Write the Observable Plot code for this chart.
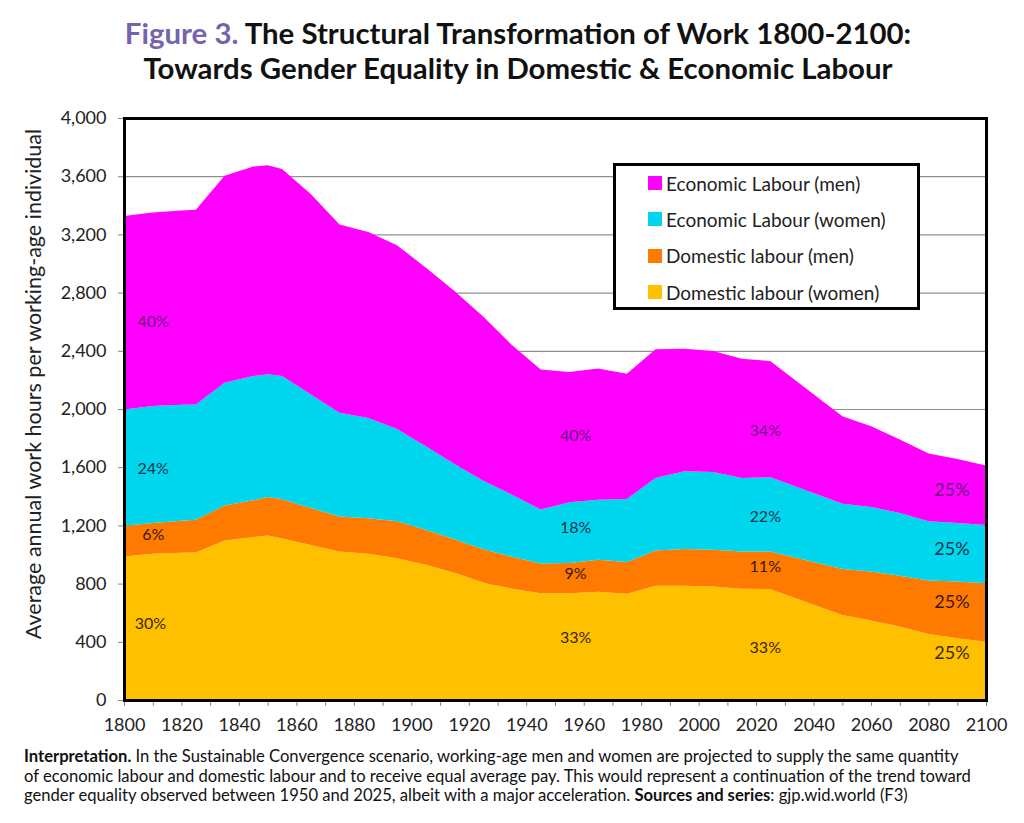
<!DOCTYPE html>
<html><head><meta charset="utf-8">
<script src="https://cdn.jsdelivr.net/npm/d3@7"></script>
<script src="https://cdn.jsdelivr.net/npm/@observablehq/plot@0.6"></script>
<style>
body{margin:0;background:#fff;font-family:Lato,"Noto Sans",sans-serif;color:#111;}
#wrap{position:relative;width:1024px;height:823px;overflow:hidden;background:#fff;}
#title{position:absolute;top:15px;left:0;width:1012px;padding-left:12px;text-align:center;font-weight:bold;font-size:29.4px;line-height:35px;color:#111;white-space:nowrap;}
#title .fig{color:#7563b0;}
#chart{position:absolute;top:100px;left:0;}
#ylabel{position:absolute;left:33px;top:384px;transform:translate(-50%,-50%) rotate(-90deg);white-space:nowrap;font-size:21.5px;color:#222;}
#legend{position:absolute;left:613px;top:163px;width:301px;height:141px;border:3px solid #000;background:#fff;}
#legend .row{position:absolute;left:32px;height:20px;display:flex;align-items:center;font-size:19px;color:#222;white-space:nowrap;}
#legend .sw{width:14px;height:14px;margin-right:4px;}
#caption{position:absolute;left:24px;top:747px;font-size:16.6px;line-height:19.7px;color:#111;}
#caption div{white-space:nowrap;}
</style></head><body>
<div id="wrap">
  <div id="title"><div><span class="fig">Figure 3.</span> The Structural Transformation of Work 1800-2100:</div><div>Towards Gender Equality in Domestic &amp; Economic Labour</div></div>
  <div id="chart"></div>
  <div id="ylabel">Average annual work hours per working-age individual</div>
  <div id="legend"></div>
  <div id="caption">
    <div><b>Interpretation.</b> In the Sustainable Convergence scenario, working-age men and women are projected to supply the same quantity</div>
    <div>of economic labour and domestic labour and to receive equal average pay. This would represent a continuation of the trend toward</div>
    <div>gender equality observed between 1950 and 2025, albeit with a major acceleration. <b>Sources and series</b>: gjp.wid.world (F3)</div>
  </div>
</div>
<script>
// ---- data (annual work hours per working-age individual) ----
const years = [1800,1810,1820,1825,1835,1845,1850,1855,1865,1875,1885,1895,1905,1915,1925,1935,1945,1955,1965,1975,1985,1995,2005,2015,2025,2050,2060,2070,2080,2090,2100];
const domesticWomen = [987,1005,1012,1014,1097,1120,1131,1110,1065,1021,1005,975,929,875,808,765,734,734,744,730,785,785,780,764,762,585,546,505,454,425,400];
const domesticMen   = [211,211,220,225,239,252,264,270,255,241,245,253,241,230,228,220,204,207,220,218,243,252,253,257,259,315,337,349,367,389,403];
const economicWomen = [799,804,798,792,844,854,843,846,780,713,689,635,574,517,471,426,372,418,413,434,498,535,534,505,510,449,443,431,407,402,400];
const economicMen   = [1330,1330,1335,1338,1423,1441,1438,1423,1377,1293,1278,1263,1228,1189,1128,1029,962,895,902,860,884,842,831,819,798,601,556,505,466,441,408];

const seriesNames  = ["Domestic labour (women)","Domestic labour (men)","Economic Labour (women)","Economic Labour (men)"];
const seriesColors = ["#ffc000","#ff7a00","#00d6ee","#ff00ff"];
const seriesValues = [domesticWomen, domesticMen, economicWomen, economicMen];
const legendOrder  = ["Economic Labour (men)","Economic Labour (women)","Domestic labour (men)","Domestic labour (women)"];

// share labels
const labelYears  = [1810,1810,1810,1809, 1957,1957,1957,1957, 2023,2023,2023,2023, 2088,2088,2088,2088];
const labelValues = [2600,1590,1136,530, 1818,1184,867,427, 1852,1265,916,365, 1446,1040,675,324];
const labelTexts  = ["40%","24%","6%","30%","40%","18%","9%","33%","34%","22%","11%","33%","25%","25%","25%","25%"];
const labelSeries = [3,2,1,0, 3,2,1,0, 3,2,1,0, 3,2,1,0];
const labelColors = ["#3a2800","#3a1800","#0c3446","#6a1380"];

const yTicks = [0,400,800,1200,1600,2000,2400,2800,3200,3600,4000];
const gridTicks = [400,800,1200,1600,2000,2400,2800,3200,3600];
const xTicks = d3.range(1800, 2101, 10);

// ---- build tables ----
const rows = [];
seriesNames.forEach((s, i) => years.forEach((yr, j) => rows.push({year: yr, series: s, value: seriesValues[i][j]})));
const labels = labelTexts.map((t, i) => ({year: labelYears[i], value: labelValues[i], text: t, s: labelSeries[i], big: t === "25%" && labelYears[i] > 2080}));

const textMarks = [0,1,2,3].map(k => Plot.text(labels.filter(d => d.s === k), {
  x: "year", y: "value", text: "text", fill: labelColors[k],
  fontSize: d => d.big ? 18 : 16, fontFamily: "Lato, sans-serif"
}));

const chart = Plot.plot({
  width: 1024, height: 640,
  marginTop: 18, marginBottom: 40, marginLeft: 124, marginRight: 38,
  style: {fontFamily: "Lato, sans-serif", fontSize: "18px", color: "#222", background: "transparent"},
  x: {domain: [1800, 2100]},
  y: {domain: [0, 4000]},
  color: {domain: seriesNames, range: seriesColors},
  marks: [
    Plot.gridY(gridTicks, {stroke: "#8f8f8f", strokeOpacity: 1, strokeWidth: 1.2}),
    Plot.areaY(rows, {x: "year", y: "value", fill: "series", order: seriesNames}),
    ...textMarks,
    Plot.axisY({ticks: yTicks, tickFormat: d3.format(","), tickSize: 6, tickPadding: 12, stroke: "#888", label: null, fontSize: 18}),
    Plot.axisX({ticks: xTicks, tickFormat: d => d % 20 === 0 ? String(d) : "", tickSize: 6, tickPadding: 12, stroke: "#888", label: null, fontSize: 18}),
    Plot.frame({stroke: "#000", strokeWidth: 3})
  ]
});
document.getElementById("chart").appendChild(chart);

// ---- legend ----
const leg = document.getElementById("legend");
legendOrder.forEach((name, i) => {
  const row = document.createElement("div");
  row.className = "row";
  row.style.top = (7 + i * 36.4) + "px";
  const sw = document.createElement("span");
  sw.className = "sw";
  sw.style.background = seriesColors[seriesNames.indexOf(name)];
  const tx = document.createElement("span");
  tx.textContent = name;
  row.appendChild(sw); row.appendChild(tx);
  leg.appendChild(row);
});
</script>
</body></html>
